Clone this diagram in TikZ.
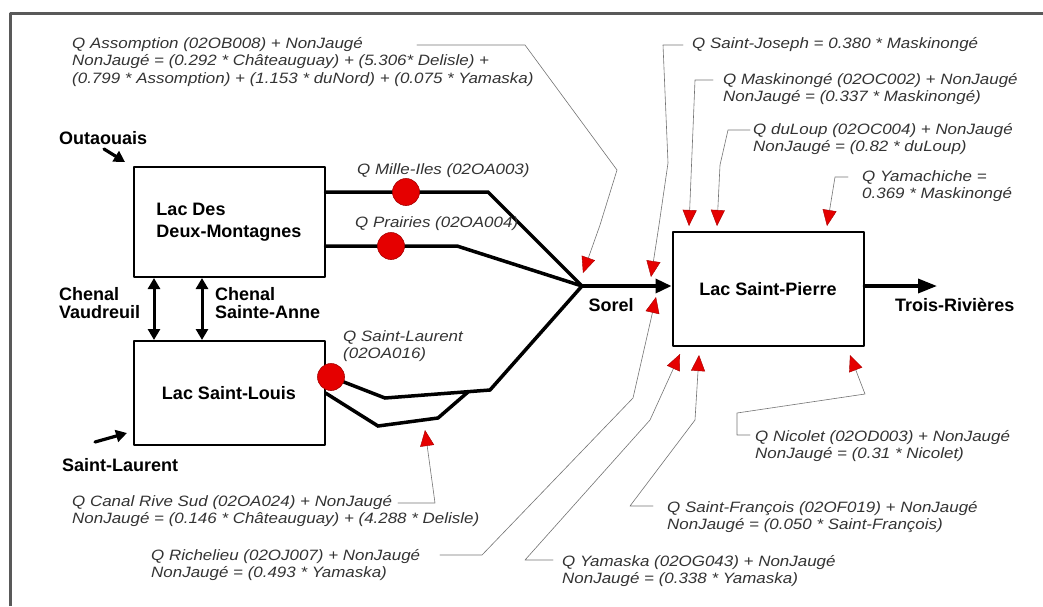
\documentclass[tikz,border=0pt]{standalone}
\usepackage{fontspec}
\setmainfont{Liberation Sans}
\newfontfamily\gothic[FakeStretch=1.13]{Liberation Sans}
\usetikzlibrary{arrows.meta}
\tikzset{
  lake/.style={draw,line width=2pt,minimum width=191pt,align=left,
    font=\bfseries\fontsize{18}{22}\selectfont},
  big/.style={font=\bfseries\fontsize{18}{17.5}\selectfont,inner sep=0pt,align=left},
  note/.style={font=\gothic\itshape\fontsize{15}{17.5}\selectfont,text=black!80,
    inner sep=0pt,anchor=west,align=left},
  flow/.style={line width=3.5pt,line join=miter},
  chan/.style={line width=3pt,{Triangle[length=11pt,width=12pt]}-{Triangle[length=11pt,width=12pt]}},
  feed/.style={line width=3.2pt,-{Triangle[length=11pt,width=12pt]}},
  lead/.style={draw=black!55,line width=0.6pt,
    -{Triangle[length=16pt,width=14pt,color=red!65!black,fill=red!90!black,line width=0.4pt]}},
  gauge/.style={fill=red!90!black,draw=red!65!black,line width=0.6pt},
}
\begin{document}
\begin{tikzpicture}[x=1pt,y=-1pt,line cap=round,line join=round]
  \useasboundingbox (0,0) rectangle (1043,606);
  \draw[black!65,line width=3pt,line cap=butt] (10,606) -- (10,13) -- (1043,13);

  % lacs
  \node[lake,minimum height=110pt] (ddm) at (229,222) {Lac Des\\Deux-Montagnes};
  \node[lake,minimum height=104pt] (lsl) at (229,393) {Lac Saint-Louis};
  \node[lake,minimum height=114pt] (lsp) at (768,289) {Lac Saint-Pierre};

  \node[big,anchor=west] (outa) at (59,138) {Outaouais};
  \node[big,anchor=west] (vaud) at (59,303) {Chenal\\Vaudreuil};
  \node[big,anchor=west] (anne) at (215,303) {Chenal\\Sainte-Anne};
  \node[big,anchor=west] (stlt) at (62,465) {Saint-Laurent};
  \node[big] (srl) at (611,305) {Sorel};
  \node[big,anchor=west] (trv) at (895,305) {Trois-Rivières};

  \coordinate (outa-s) at (104,149); \coordinate (outa-t) at (125,162);
  \coordinate (stlt-s) at (95,442);  \coordinate (stlt-t) at (127,433);
  \draw[feed] (outa-s) -- (outa-t);
  \draw[feed] (stlt-s) -- (stlt-t);
  \draw[chan] ([xshift=-75pt]ddm.south) -- ([xshift=-75pt]lsl.north);
  \draw[chan] ([xshift=-27pt]ddm.south) -- ([xshift=-27pt]lsl.north);

  % rivieres
  \coordinate (sorel) at (582,286);
  \coordinate (trois) at (937,286);
  \coordinate (mil) at (406,192);
  \coordinate (pra) at (391,246);
  \coordinate (stl) at (331,377);
  \draw[flow] (ddm.east |- mil) -- (488,192) -- (sorel);
  \draw[flow] (ddm.east |- pra) -- (457,246) -- (sorel);
  \draw[flow] (stl) -- (385,398) -- (490,390) -- (sorel);
  \draw[flow] (lsl.east) -- (378,426) -- (438,418) -- (468,392);
  \draw[flow,-{Triangle[length=16pt,width=14pt]}] (sorel) -- (lsp.west |- sorel);
  \draw[flow,-{Triangle[length=19pt,width=14pt]}] (lsp.east |- trois) -- (trois);
  \foreach \g in {mil,pra,stl} \fill[gauge] (\g) circle (13.5);

  \node[note] (lmil) at (357,171) {Q Mille-Iles (02OA003)};
  \node[note] (lpra) at (355,224) {Q Prairies (02OA004)};
  \node[note] (lstl) at (343,346) {Q Saint-Laurent\\(02OA016)};

  % stations et apports
  \node[note] (ass) at (72,62) {Q Assomption (02OB008) + NonJaugé\\
    NonJaugé = (0.292 * Châteauguay) + (5.306* Delisle) +\\
    (0.799 * Assomption) + (1.153 * duNord) + (0.075 * Yamaska)};
  \node[note] (sjo) at (692,45) {Q Saint-Joseph = 0.380 * Maskinongé};
  \node[note] (mas) at (723,89) {Q Maskinongé (02OC002) + NonJaugé\\NonJaugé = (0.337 * Maskinongé)};
  \node[note] (dlp) at (753,139) {Q duLoup (02OC004) + NonJaugé\\NonJaugé = (0.82 * duLoup)};
  \node[note] (yac) at (862,186) {Q Yamachiche =\\0.369 * Maskinongé};
  \node[note] (nic) at (755,446) {Q Nicolet (02OD003) + NonJaugé\\NonJaugé = (0.31 * Nicolet)};
  \node[note] (sfr) at (667,517) {Q Saint-François (02OF019) + NonJaugé\\NonJaugé = (0.050 * Saint-François)};
  \node[note] (yam) at (562,571) {Q Yamaska (02OG043) + NonJaugé\\NonJaugé = (0.338 * Yamaska)};
  \node[note] (ric) at (151,565) {Q Richelieu (02OJ007) + NonJaugé\\NonJaugé = (0.493 * Yamaska)};
  \node[note] (crs) at (72,511) {Q Canal Rive Sud (02OA024) + NonJaugé\\NonJaugé = (0.146 * Châteauguay) + (4.288 * Delisle)};

  \coordinate (ass-s) at (417,45);  \coordinate (ass-t) at (583,273);
  \coordinate (sjo-s) at (683,45);  \coordinate (sjo-t) at (651,277);
  \coordinate (mas-s) at (713,80);  \coordinate (mas-t) at (689,226);
  \coordinate (dlp-s) at (750,130); \coordinate (dlp-t) at (717,226);
  \coordinate (yac-s) at (848,177); \coordinate (yac-t) at (827,226);
  \coordinate (nic-s) at (750,435); \coordinate (nic-t) at (850,355);
  \coordinate (sfr-s) at (653,506); \coordinate (sfr-t) at (699,355);
  \coordinate (yam-s) at (553,560); \coordinate (yam-t) at (680,354);
  \coordinate (ric-s) at (440,555); \coordinate (ric-t) at (656,297);
  \coordinate (crs-s) at (398,503); \coordinate (crs-t) at (425,430);
  \draw[lead] (ass-s) -- (525,45) -- (617,170) -- (600,225) -- (ass-t);
  \draw[lead] (sjo-s) -- (663,45) -- (668,163) -- (659,225) -- (sjo-t);
  \draw[lead] (mas-s) -- (695,80) -- (mas-t);
  \draw[lead] (dlp-s) -- (728,130) -- (720,165) -- (dlp-t);
  \draw[lead] (yac-s) -- (835,177) -- (yac-t);
  \draw[lead] (nic-s) -- (737,435) -- (737,413) -- (865,394) -- (nic-t);
  \draw[lead] (sfr-s) -- (630,506) -- (695,420) -- (sfr-t);
  \draw[lead] (yam-s) -- (525,560) -- (650,420) -- (yam-t);
  \draw[lead] (ric-s) -- (482,555) -- (633,398) -- (ric-t);
  \draw[lead] (crs-s) -- (435,503) -- (crs-t);
\end{tikzpicture}
\end{document}
